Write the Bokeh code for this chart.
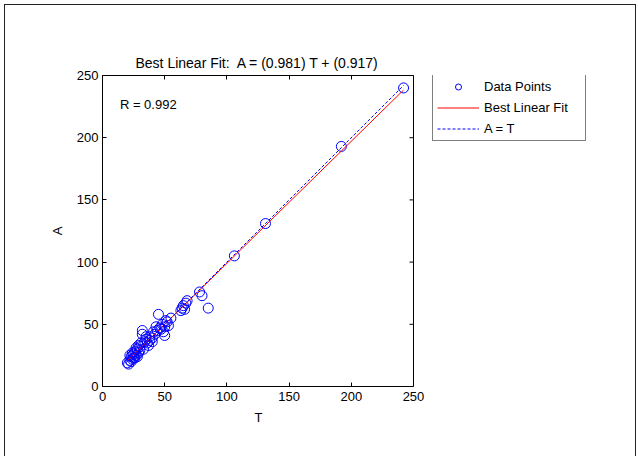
from bokeh.plotting import figure
from bokeh.models import Range1d, FixedTicker, LinearAxis, Legend, LegendItem, Label, Span
from bokeh.embed import file_html
from bokeh.resources import INLINE

# ---- data ----
T = [242, 192, 131, 106, 78, 80, 85,
     63, 64, 65, 66, 67, 68,
     45, 55, 52, 50, 48, 47, 49, 53, 46, 51, 50, 44, 43,
     32, 32, 35, 38, 40, 36, 42, 40, 37, 34, 30, 33, 31, 38, 41, 35,
     20, 21, 22, 23, 24, 25, 26, 27, 28, 24, 29, 26, 30, 22, 28, 27, 23, 25, 29]
A = [240, 193, 131, 105, 76, 73, 63,
     61, 63, 65, 62, 67, 69,
     58, 55, 52, 48, 50, 46, 44, 49, 47, 53, 41, 45, 48,
     45, 42, 38, 40, 39, 35, 42, 36, 33, 36, 32, 30, 35, 37, 44, 40,
     19, 18, 21, 24, 22, 26, 28, 25, 30, 27, 27, 23, 29, 25, 24, 31, 20, 23, 33]
slope = 0.981
intercept = 0.917
R_value = 0.992
ticks = [0, 50, 100, 150, 200, 250]
axis_min, axis_max = 0, 250

FONT = "Liberation Sans"
FS = "13px"

# the data box is 311 px wide; the frame is wider so that the legend fits inside it
BOX_PX = 311
FRAME_W = 500
x_end = axis_max * FRAME_W / BOX_PX

p = figure(frame_width=FRAME_W, frame_height=BOX_PX,
           min_border_left=97, min_border_top=70, min_border_right=33, min_border_bottom=70,
           x_range=Range1d(axis_min, x_end), y_range=Range1d(axis_min, axis_max),
           output_backend="svg", toolbar_location=None,
           background_fill_color="white", border_fill_color="white",
           title="Best Linear Fit:\u00a0 A = (0.981) T + (0.917)")
p.styles = {"margin-left": "4px", "margin-top": "4px",
            "border-left": "1px solid #222", "border-top": "1px solid #222",
            "border-right": "1px solid #222"}

p.title.align = "left"
p.title.offset = 33
p.title.text_font = FONT
p.title.text_font_size = "14px"
p.title.text_font_style = "normal"
p.title.text_color = "black"

p.grid.visible = False
p.outline_line_color = None

for ax in [p.xaxis[0], p.yaxis[0]]:
    ax.ticker = FixedTicker(ticks=ticks)
    ax.bounds = (axis_min, axis_max)
    ax.major_tick_in = 4
    ax.major_tick_out = 0
    ax.minor_tick_line_color = None
    ax.axis_line_color = "black"
    ax.major_tick_line_color = "black"
    ax.major_label_text_font = FONT
    ax.major_label_text_font_size = FS
    ax.major_label_text_color = "black"
    ax.axis_label_text_font = FONT
    ax.axis_label_text_font_size = FS
    ax.axis_label_text_font_style = "normal"
    ax.axis_label_text_color = "black"

# the x label is centred on the wider frame: pad it on the right so "T" sits under the box centre
p.xaxis[0].axis_label = "T" + "\u00a0" * 52
p.yaxis[0].axis_label = "A"
p.xaxis[0].major_label_standoff = 5
p.yaxis[0].major_label_standoff = 4
p.xaxis[0].axis_label_standoff = 6
p.yaxis[0].axis_label_standoff = 9

blank = {t: "" for t in ticks}
top_ax = LinearAxis(ticker=FixedTicker(ticks=ticks), bounds=(axis_min, axis_max),
                    major_tick_in=4, major_tick_out=0,
                    minor_tick_line_color=None, major_label_overrides=blank,
                    major_label_standoff=9, axis_line_color="black")
p.add_layout(top_ax, "above")

# right edge of the box, with inward ticks
p.add_layout(Span(location=axis_max, dimension="height", line_color="black", line_width=1))
tick_len = 4 * x_end / FRAME_W
p.segment(x0=[axis_max] * len(ticks), y0=ticks,
          x1=[axis_max - tick_len] * len(ticks), y1=ticks,
          line_color="black", line_width=1)

x0, x1 = min(T), max(T)
fit_x = [x0, x1]
fit_y = [slope * x0 + intercept, slope * x1 + intercept]

r_pts = p.scatter(T, A, marker="circle", size=10, fill_color=None,
                  line_color="#0000ff", line_width=1)
r_fit = p.line(fit_x, fit_y, line_color="#ff0000", line_width=1)
r_id = p.line(fit_x, fit_x, line_color="#0000ff", line_width=1, line_dash="3 2")

p.add_layout(Label(x=14, y=227, text="R = %.3f" % R_value, text_font=FONT,
                   text_font_size=FS, text_color="black", text_baseline="middle"))

legend = Legend(items=[LegendItem(label="Data Points", renderers=[r_pts]),
                       LegendItem(label="Best Linear Fit", renderers=[r_fit]),
                       LegendItem(label="A = T", renderers=[r_id])],
                location=(330, 245), orientation="vertical")
legend.padding = 4
legend.spacing = 6
legend.glyph_width = 42
legend.glyph_height = 15
legend.label_height = 15
legend.label_width = 97
legend.label_standoff = 5
legend.margin = 0
legend.border_line_color = "black"
legend.border_line_width = 1
legend.background_fill_color = "white"
legend.background_fill_alpha = 1
legend.label_text_font = FONT
legend.label_text_font_size = FS
legend.label_text_color = "black"
p.add_layout(legend)

open("out.html", "w").write(file_html(p, INLINE))
